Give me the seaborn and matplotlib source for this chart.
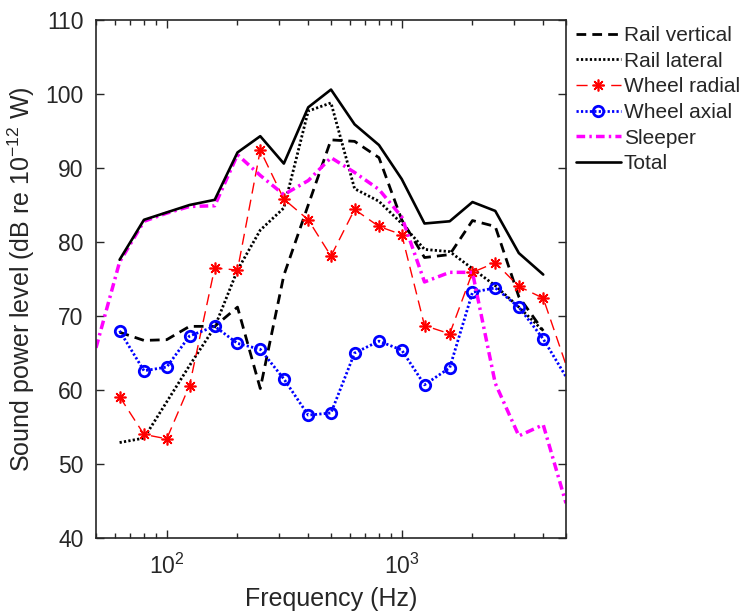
import numpy as np
import pandas as pd
import matplotlib
matplotlib.use("Agg")
import matplotlib.pyplot as plt
import seaborn as sns

# One-third octave band centre frequencies (Hz)
freq = [50, 63, 80, 100, 125, 160, 200, 250, 315, 400, 500, 630, 800,
        1000, 1250, 1600, 2000, 2500, 3150, 4000, 5000]

nan = np.nan
rail_vertical = [nan, 67.8, 66.7, 66.8, 68.6, 68.6, 71.2, 60.2, 75.5, 85.0, 93.8,
                 93.6, 91.4, 83.0, 77.9, 78.3, 82.9, 82.1, 72.6, 68.0, nan]
rail_lateral = [nan, 52.9, 53.5, 58.4, 63.3, 68.5, 76.2, 81.6, 84.6, 97.7, 98.8,
                87.2, 85.5, 82.5, 79.0, 78.7, 76.4, 74.1, 71.2, 68.0, nan]
wheel_radial = [nan, 59.1, 54.0, 53.4, 60.6, 76.5, 76.2, 92.4, 85.8, 83.0, 78.1,
                84.4, 82.1, 81.0, 68.7, 67.6, 75.9, 77.2, 74.0, 72.4, 63.4]
wheel_axial = [nan, 68.0, 62.6, 63.1, 67.3, 68.6, 66.3, 65.5, 61.5, 56.6, 56.9,
               65.0, 66.6, 65.4, 60.7, 63.0, 73.2, 73.8, 71.2, 66.9, 61.8]
sleeper = [65.7, 77.3, 82.8, 83.9, 84.8, 84.9, 91.8, 89.0, 86.4, 88.3, 91.4,
           89.4, 87.1, 83.4, 74.6, 75.9, 75.9, 60.9, 53.8, 55.3, 44.7]
total = [nan, 77.6, 83.0, 84.0, 85.0, 85.7, 92.1, 94.3, 90.6, 98.2, 100.6,
         95.9, 93.1, 88.5, 82.5, 82.8, 85.4, 84.2, 78.5, 75.6, nan]

series = {
    "Rail vertical": rail_vertical,
    "Rail lateral": rail_lateral,
    "Wheel radial": wheel_radial,
    "Wheel axial": wheel_axial,
    "Sleeper": sleeper,
    "Total": total,
}

df = pd.DataFrame({"freq": freq, **series})

styles = {
    "Rail vertical": dict(color="black", linewidth=2.0, linestyle=(0, (3.5, 2.2))),
    "Rail lateral": dict(color="black", linewidth=2.0, linestyle=(0, (0.8, 0.8))),
    "Wheel radial": dict(color="#FF0000", linewidth=1.0, linestyle=(0, (8, 4.5)),
                         marker=(8, 2, 0), markersize=8.5, markeredgewidth=1.2,
                         markeredgecolor="#FF0000", markerfacecolor="#FF0000"),
    "Wheel axial": dict(color="#0000FF", linewidth=2.0, linestyle=(0, (0.8, 0.8)),
                        marker="o", markersize=7.5, markeredgewidth=2.0,
                        markeredgecolor="#0000FF", markerfacecolor="none"),
    "Sleeper": dict(color="#FF00FF", linewidth=2.5, linestyle=(0, (2.5, 1.2, 0.7, 1.2))),
    "Total": dict(color="black", linewidth=1.9, linestyle="-"),
}

sns.set_style("ticks")
plt.rcParams["font.family"] = ["Liberation Sans", "DejaVu Sans"]
plt.rcParams["mathtext.default"] = "regular"

fig = plt.figure(figsize=(7.43, 6.12), dpi=100)
ax = fig.add_axes([96 / 743, 1 - 538 / 612, 470 / 743, 518 / 612])

xmax = 5000
for name in series:
    sub = df[["freq", name]].dropna()
    kw = dict(styles[name])
    if "marker" in kw:
        # markers only at bands inside the plotted range
        kw["markevery"] = [i for i, f in enumerate(sub["freq"]) if f < xmax]
    sns.lineplot(data=sub, x="freq", y=name, ax=ax, label=name,
                 estimator=None, sort=True, **kw)

ax.set_xscale("log")
ax.set_xlim(50, xmax)
ax.set_ylim(40, 110)
ax.set_yticks(np.arange(40, 111, 10))

ink = "#262626"
for sp in ax.spines.values():
    sp.set_visible(True)
    sp.set_linewidth(1.2)
    sp.set_color(ink)
ax.tick_params(which="both", direction="in", top=True, right=True,
               colors=ink, labelsize=16.5)
ax.tick_params(which="major", length=6, width=1.0)
ax.tick_params(which="minor", length=3.5, width=1.0)
ax.tick_params(axis="y", which="major", pad=9)
ax.tick_params(axis="x", which="major", pad=11)

ax.set_xlabel("Frequency (Hz)", fontsize=18, color=ink, labelpad=6)
ax.set_ylabel("Sound power level (dB re 10$^{-12}$ W)", fontsize=18, color=ink,
              labelpad=6)

leg = ax.legend(loc="upper left", bbox_to_anchor=(576 / 743, 1 - 26 / 612),
                bbox_transform=fig.transFigure, frameon=False, fontsize=15,
                handlelength=2.15, handletextpad=0.15, labelspacing=0.32,
                borderpad=0, borderaxespad=0, numpoints=1)
for line in leg.get_lines():
    line.set_markevery([1])

fig.savefig("out.png", dpi=100)
